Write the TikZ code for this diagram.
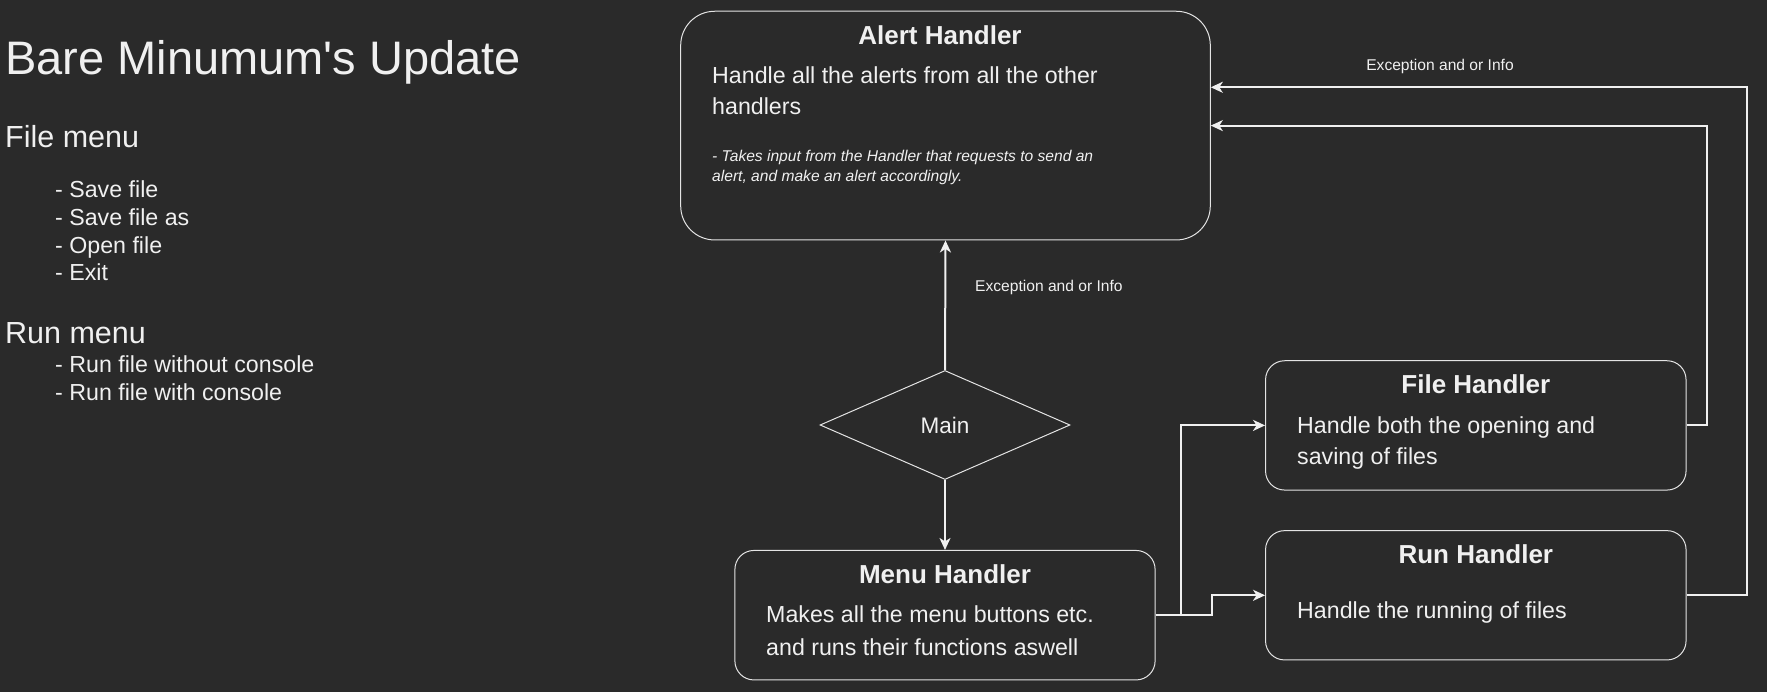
\documentclass[tikz,border=0pt]{standalone}
\usepackage{fontspec}
\setmainfont{Liberation Sans}
\newfontfamily\plainsans{Liberation Sans}
\usetikzlibrary{shapes.geometric,arrows.meta}
\definecolor{bg}{RGB}{42,42,42}
\definecolor{fg}{RGB}{240,240,240}
\definecolor{edge}{RGB}{228,228,228}
\tikzset{
  box/.style={draw=edge, fill=bg, line width=1pt, inner sep=0pt},
  txt/.style={text=fg, inner sep=0pt, anchor=base west},
  ttl/.style={text=fg, inner sep=0pt, anchor=base, font=\fontsize{26}{30}\selectfont\bfseries},
  body/.style={txt, font=\fontsize{23.2}{28}\selectfont},
  small/.style={txt, font=\fontsize{15.6}{19}\selectfont},
  arr/.style={draw=fg, line width=2pt, -{Stealth[length=12pt,width=11pt,inset=3.5pt]}},
}
\begin{document}
\begin{tikzpicture}[x=1pt,y=-1pt]
\fill[bg] (0,0) rectangle (1767,692);
\useasboundingbox (0,0) rectangle (1767,692);

% left notes
\node[txt, font=\plainsans\fontsize{47}{56}\selectfont] (title) at (5,75) {Bare Minumum's Update};
\node[txt, font=\fontsize{30.5}{36}\selectfont] (filemenu) at (5,148) {File menu};
\node[body] (f1) at (55,198) {- Save file};
\node[body] (f2) at (55,226) {- Save file as};
\node[body] (f3) at (55,254) {- Open file};
\node[body] (f4) at (55,281) {- Exit};
\node[txt, font=\fontsize{30.5}{36}\selectfont] (runmenu) at (5,344) {Run menu};
\node[body] (r1) at (55,373) {- Run file without console};
\node[body] (r2) at (55,401) {- Run file with console};

% boxes
\node[box, rounded corners=34pt, minimum width=529.6pt, minimum height=228.7pt] (alert) at (945.5,125.6) {};
\node[box, rounded corners=19pt, minimum width=420.2pt, minimum height=129.5pt] (menu) at (945,615.2) {};
\node[box, rounded corners=19pt, minimum width=420.5pt, minimum height=129.3pt] (file) at (1475.8,425.4) {};
\node[box, rounded corners=19pt, minimum width=420.5pt, minimum height=129.3pt] (run) at (1475.8,595.3) {};
\node[diamond, draw=edge, fill=bg, line width=1pt, inner sep=0pt, minimum width=250pt, minimum height=109pt, text=fg, font=\fontsize{22.5}{26}\selectfont] (main) at (945,425) {Main};

% box texts
\node[ttl] (alertT) at (940,44.5) {Alert Handler};
\node[body] (alertB1) at (712,83.5) {Handle all the alerts from all the other};
\node[body] (alertB2) at (712,114.5) {handlers};
\node[small, font=\fontsize{15.6}{19}\selectfont\itshape] (alertI1) at (712,162) {- Takes input from the Handler that requests to send an};
\node[small, font=\fontsize{15.6}{19}\selectfont\itshape] (alertI2) at (712,182) {alert, and make an alert accordingly.};

\node[ttl] (menuT) at (945,583.5) {Menu Handler};
\node[body] (menuB1) at (766,622.5) {Makes all the menu buttons etc.};
\node[body] (menuB2) at (766,655) {and runs their functions aswell};

\node[ttl] (fileT) at (1475.8,393.8) {File Handler};
\node[body] (fileB1) at (1297,433) {Handle both the opening and};
\node[body] (fileB2) at (1297,464.5) {saving of files};

\node[ttl] (runT) at (1475.8,563.8) {Run Handler};
\node[body] (runB) at (1297,618.5) {Handle the running of files};

% connectors
\draw[arr] (main.north) -- (alert.south);
\node[small] (lbl1) at (975,291.7) {Exception and or Info};
\draw[arr] (main.south) -- (menu.north);
\draw[arr] (menu.east) -- ++(25,0) |- (file.west);
\draw[arr] (menu.east) -- ++(56,0) |- (run.west);
\draw[arr] (file.east) -- ++(20,0) |- (alert.east);
\draw[arr] (run.east) -- ++(60,0) |- ([yshift=38.3pt]alert.east);
\node[small, anchor=base] (lbl2) at (1440,71) {Exception and or Info};
\end{tikzpicture}
\end{document}
